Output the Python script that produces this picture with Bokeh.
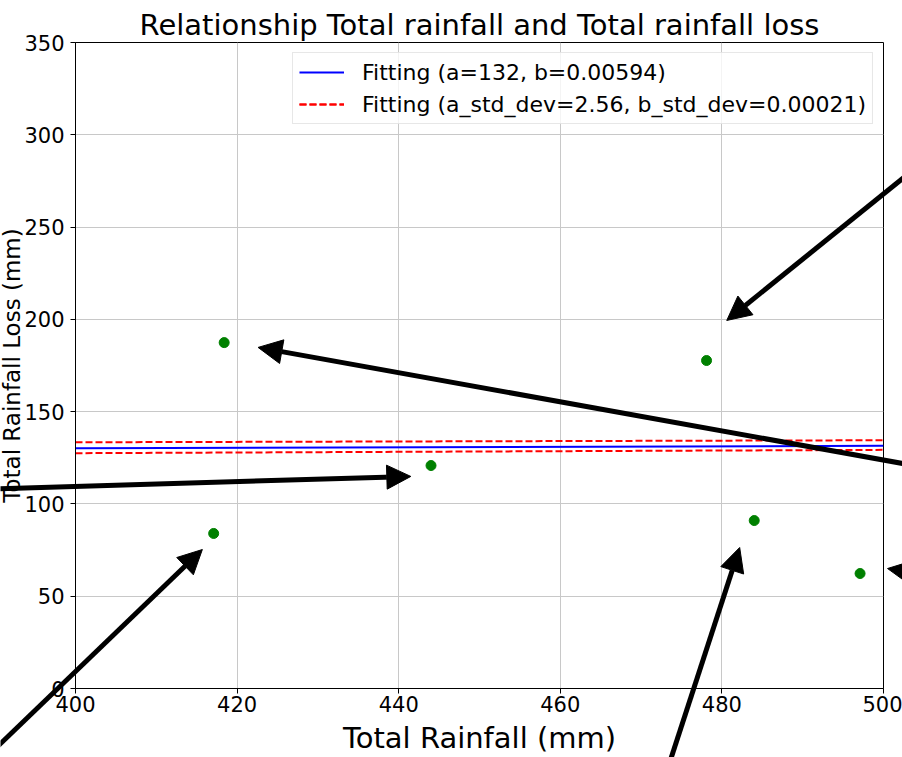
from bokeh.plotting import figure
from bokeh.models import (Range1d, FixedTicker, ColumnDataSource, Arrow, NormalHead,
                          Legend, LegendItem, Label)
from bokeh.embed import file_html
from bokeh.resources import INLINE

# ---- data ----
rain_x = [418.4, 444.0, 417.1, 478.1, 484.0, 497.1]
loss_y = [187.4, 120.8, 84.0, 177.7, 91.0, 62.3]

fit_x = [400, 500]
fit_y = [130.2, 131.5]
fit_upper = [133.4, 134.5]
fit_lower = [127.5, 129.3]

# annotation arrows (tip near a point, tail toward the off-chart label)
arrow_tip_x = [422.6, 441.5, 415.7, 480.6, 482.2, 500.5]
arrow_tip_y = [184.8, 114.9, 75.3, 199.4, 76.4, 65.0]
arrow_tail_x = [509.5, 384.2, 384.2, 509.5, 471.6, 509.5]
arrow_tail_y = [116.3, 107.4, -57.3, 301.5, -66.1, 58.5]

x_ticks = [400, 420, 440, 460, 480, 500]
y_ticks = [0, 50, 100, 150, 200, 250, 300, 350]

title_text = "Relationship Total rainfall and Total rainfall loss"
x_label = "Total Rainfall (mm)"
y_label = "Total Rainfall Loss (mm)"
label_fit = "Fitting (a=132, b=0.00594)"
label_std = "Fitting (a_std_dev=2.56, b_std_dev=0.00021)"

FONT = "DejaVu Sans"

# ---- layout constants (pixels) ----
W, H = 902, 757
B_LEFT, B_RIGHT, B_TOP, B_BOTTOM = 75, 19, 42, 69
X0, X1, Y0, Y1 = 400, 500, 0, 350
XLABEL_MID = 737   # from the top of the canvas
YLABEL_MID = 11    # from the left of the canvas

p = figure(width=W, height=H, output_backend="svg", toolbar_location=None,
           x_range=Range1d(X0, X1), y_range=Range1d(Y0, Y1),
           min_border_left=B_LEFT, min_border_right=B_RIGHT,
           min_border_top=B_TOP, min_border_bottom=B_BOTTOM)

p.title.text = title_text
p.title.text_font = FONT
p.title.text_font_size = "29px"
p.title.text_font_style = "normal"
p.title.align = "center"
p.title.standoff = 2
p.title.text_color = "black"

p.outline_line_color = "black"
p.outline_line_width = 1
p.outline_line_alpha = 1

for ax in (p.xaxis[0], p.yaxis[0]):
    ax.major_label_text_font = FONT
    ax.major_label_text_font_size = "21px"
    ax.major_label_text_color = "black"
    ax.axis_line_color = "black"
    ax.major_tick_line_color = "black"
    ax.major_tick_out = 5
    ax.major_tick_in = 0
    ax.minor_tick_line_color = None

p.xaxis.ticker = FixedTicker(ticks=x_ticks)
p.yaxis.ticker = FixedTicker(ticks=y_ticks)
p.xaxis.major_label_standoff = 2
p.yaxis.major_label_standoff = 6

p.grid.grid_line_color = "#c8c8c8"
p.grid.grid_line_width = 1
p.xgrid.ticker = FixedTicker(ticks=x_ticks)
p.ygrid.ticker = FixedTicker(ticks=y_ticks)

r_fit = p.line(fit_x, fit_y, line_color="blue", line_width=2)
r_up = p.line(fit_x, fit_upper, line_color="red", line_width=2, line_dash="7 3")
r_lo = p.line(fit_x, fit_lower, line_color="red", line_width=2, line_dash="7 3")

p.scatter(rain_x, loss_y, size=10, fill_color="green", line_color="green", marker="circle")

legend = Legend(items=[LegendItem(label=label_fit, renderers=[r_fit]),
                       LegendItem(label=label_std, renderers=[r_up, r_lo])],
                location="top_right")
legend.label_text_font = FONT
legend.label_text_font_size = "22px"
legend.label_text_color = "black"
legend.glyph_width = 45
legend.glyph_height = 26
legend.label_height = 26
legend.label_standoff = 18
legend.spacing = 6
legend.padding = 6
legend.margin = 10
legend.border_line_color = "#d0d0d0"
legend.border_line_width = 1
legend.background_fill_alpha = 0.8
p.add_layout(legend)

# ---- transparent overlay (separate root, stacked on top of the chart) whose
#      frame is the whole canvas, so the arrows and axis titles can sit outside the axes ----
fw = W - B_LEFT - B_RIGHT
fh = H - B_TOP - B_BOTTOM
ux = (X1 - X0) / fw
uy = (Y1 - Y0) / fh
ov_x0 = X0 - B_LEFT * ux
ov_y1 = Y1 + B_TOP * uy
ov = figure(width=W, height=H, output_backend="svg", toolbar_location=None,
            x_range=Range1d(ov_x0, X1 + B_RIGHT * ux),
            y_range=Range1d(Y0 - B_BOTTOM * uy, ov_y1),
            x_axis_location=None, y_axis_location=None,
            min_border=0, min_border_left=0, min_border_right=0,
            min_border_top=0, min_border_bottom=0,
            background_fill_color=None, border_fill_color=None)
ov.outline_line_color = None
ov.grid.visible = False
ov.styles = {"position": "absolute", "left": "0px", "top": "0px"}

arrows = ColumnDataSource(dict(x0=arrow_tail_x, y0=arrow_tail_y, x1=arrow_tip_x, y1=arrow_tip_y))
ov.add_layout(Arrow(source=arrows, x_start="x0", y_start="y0", x_end="x1", y_end="y1",
                    line_color="black", line_width=5,
                    end=NormalHead(size=24, fill_color="black", line_color="black", line_width=1)))

# axis titles
ov.add_layout(Label(x=(X0 + X1) / 2, y=ov_y1 - XLABEL_MID * uy, text=x_label,
                    text_align="center", text_baseline="middle",
                    text_font=FONT, text_font_size="29px", text_color="black"))
ov.add_layout(Label(x=ov_x0 + YLABEL_MID * ux, y=(Y0 + Y1) / 2, text=y_label,
                    angle=90, angle_units="deg",
                    text_align="center", text_baseline="middle",
                    text_font=FONT, text_font_size="23px", text_color="black"))

open("out.html", "w").write(file_html([p, ov], INLINE))
